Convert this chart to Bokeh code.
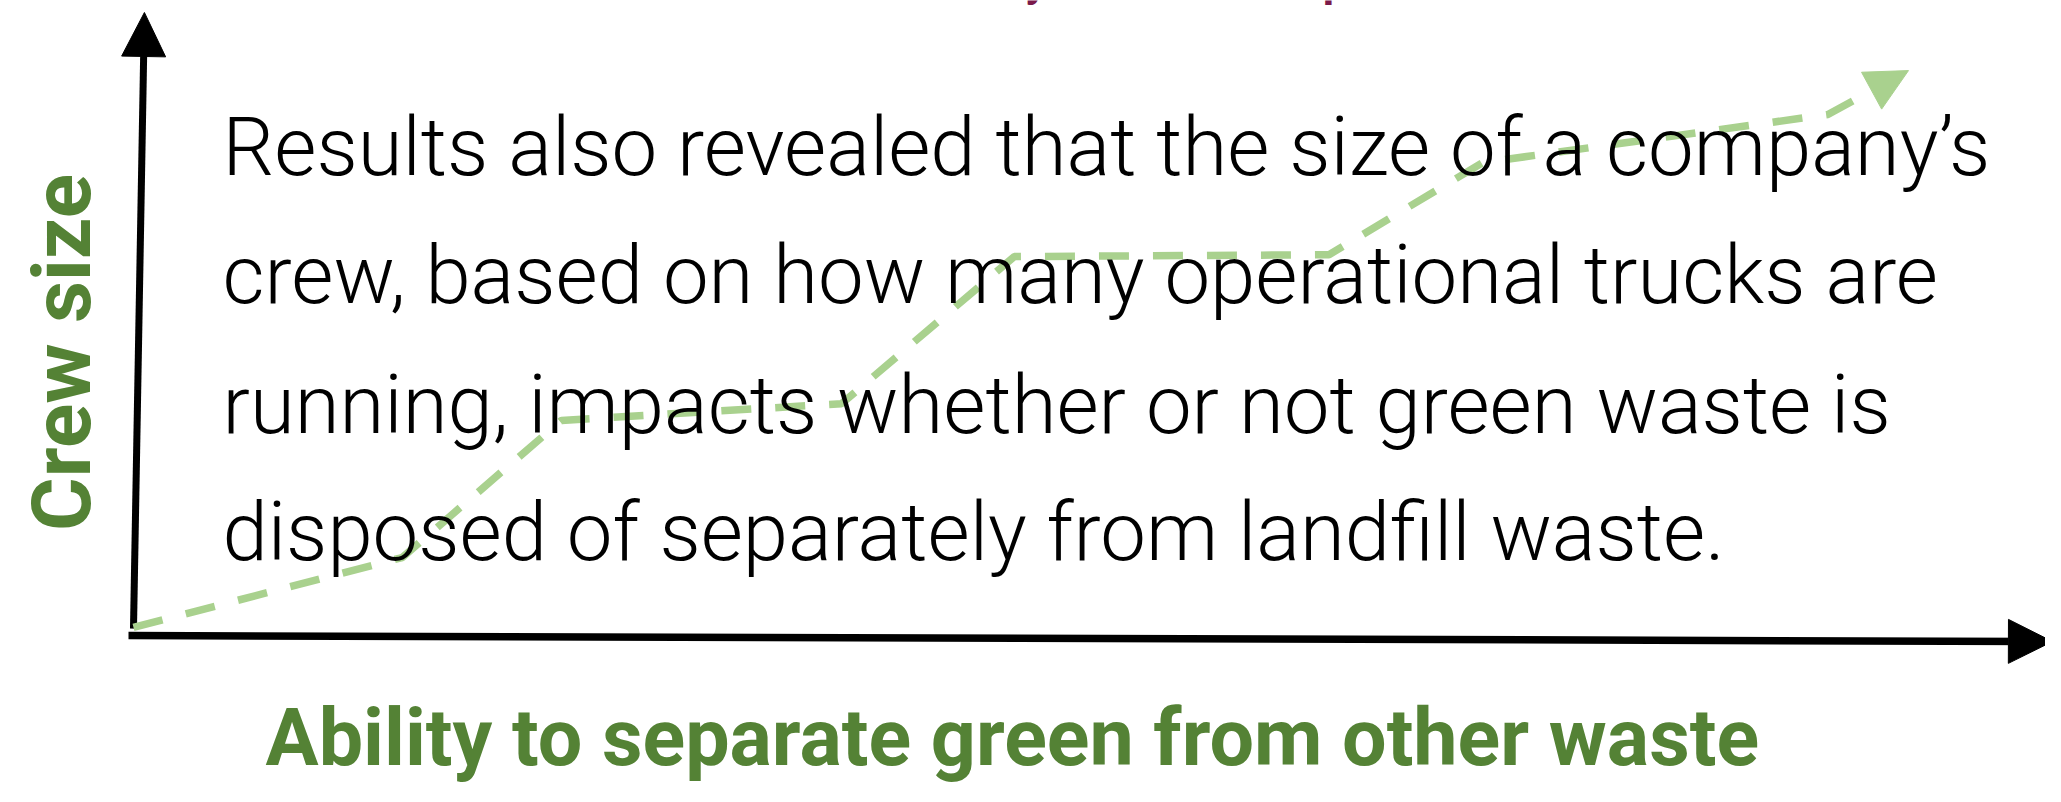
from bokeh.plotting import figure
from bokeh.models import Range1d, Arrow, NormalHead
from bokeh.core.properties import value
from bokeh.embed import file_html
from bokeh.resources import INLINE

# ---- data ----
ability = [0.0, 14.0, 22.3, 36.9, 45.9, 62.3, 70.3, 88.3, 92.5]
crew_size = [0.5, 11.8, 34.0, 36.7, 60.5, 60.8, 75.7, 83.5, 90.6]

body_lines = [
    "Results also revealed that the size of a company\u2019s",
    "crew, based on how many operational trucks are",
    "running, impacts whether or not green waste is",
    "disposed of separately from landfill waste.",
]
x_label = "Ability to separate green from other waste"
y_label = "Crew size"
title = "Why Crew Size Impacts"  # placeholder: only descender tips of the real title are visible in the reference

# ---- styles ----
GREEN_LINE = "#a9d18e"
GREEN_TEXT = "#548235"
MAROON = "#7a1a4a"
BODY_FONT = value("Roboto Light, Roboto, sans-serif")
LABEL_FONT = value("Roboto, sans-serif")

W, H = 2045, 786
p = figure(width=W, height=H, title=None,
           x_range=Range1d(-6.93, 99.64), y_range=Range1d(-25.24, 101.94),
           output_backend="svg", toolbar_location=None,
           x_axis_location=None, y_axis_location=None, min_border=0)
p.grid.visible = False
p.outline_line_color = None
p.background_fill_color = "white"
p.border_fill_color = "white"

# hand-drawn axes (arrows)
p.add_layout(Arrow(x_start=-0.26, y_start=-0.81, x_end=100.0, y_end=-1.78,
                   line_width=7.5, line_color="black", level="underlay",
                   end=NormalHead(size=44, fill_color="black", line_color="black", line_width=1)))
p.add_layout(Arrow(x_start=0.0, y_start=0.3, x_end=0.57, y_end=100.0,
                   line_width=7, line_color="black", level="underlay",
                   end=NormalHead(size=44, fill_color="black", line_color="black", line_width=1)))

# trend line
p.line(ability, crew_size, line_color=GREEN_LINE, line_width=7.5, line_dash="30 24")
p.add_layout(Arrow(x_start=ability[-2], y_start=crew_size[-2],
                   x_end=ability[-1], y_end=crew_size[-1], line_alpha=0,
                   end=NormalHead(size=42, fill_color=GREEN_LINE, line_color=GREEN_LINE, line_width=1)))

# body text
body_y = [74.6, 53.9, 33.0, 12.3]
p.text(x=[4.64] * len(body_lines), y=body_y, text=body_lines, y_offset=-22,
       text_font=BODY_FONT, text_font_size="81.5px", text_color="black",
       text_align="left", text_baseline="alphabetic")

# axis labels
p.text(x=[45.8], y=[-21.7], text=[x_label], text_font=LABEL_FONT, y_offset=-27,
       text_font_style="bold", text_font_size="79px", text_color=GREEN_TEXT,
       text_align="center", text_baseline="alphabetic")
p.text(x=[-3.7], y=[45.0], text=[y_label], text_font=LABEL_FONT, angle=1.5708,
       text_font_style="bold", text_font_size="82px", text_color=GREEN_TEXT,
       text_align="center", text_baseline="alphabetic")

# title (lies above the visible area; only its descenders show)
p.text(x=[43.1], y=[101.8], text=[title], text_font=LABEL_FONT, y_offset=-21,
       text_font_style="bold", text_font_size="45px", text_color=MAROON,
       text_align="left", text_baseline="alphabetic")

open("out.html", "w").write(file_html(p, INLINE))
